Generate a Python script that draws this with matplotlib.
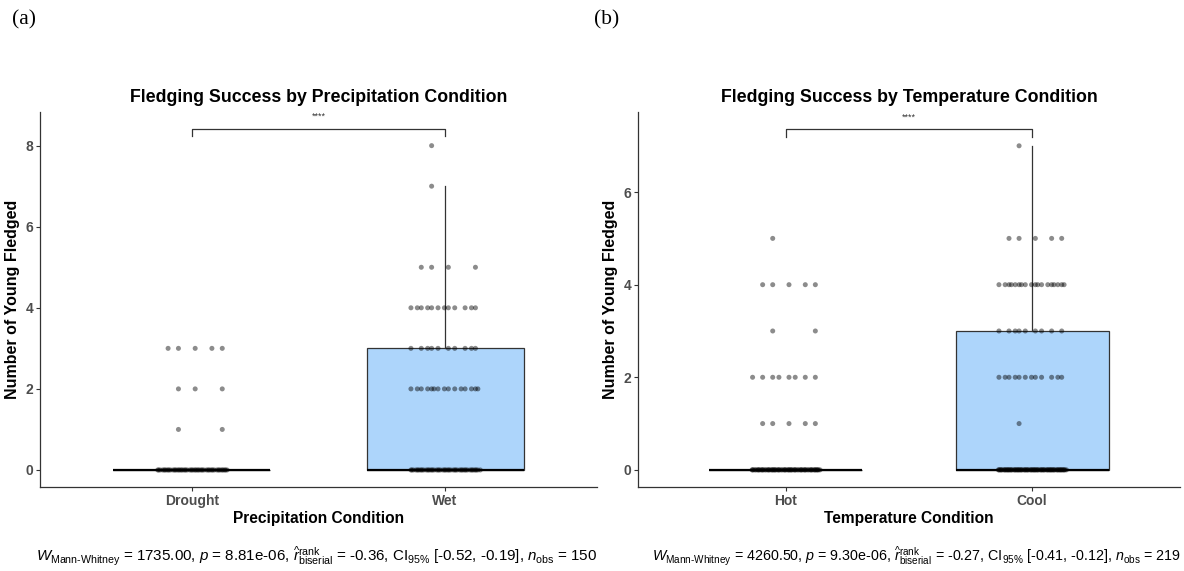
import numpy as np
import matplotlib
matplotlib.use("Agg")
import matplotlib.pyplot as plt

plt.rcParams['font.family'] = ['Liberation Sans', 'DejaVu Sans']
plt.rcParams['mathtext.fontset'] = 'custom'
plt.rcParams['mathtext.rm'] = 'Liberation Sans'
plt.rcParams['mathtext.it'] = 'Liberation Sans:italic'
plt.rcParams['mathtext.bf'] = 'Liberation Sans:bold'

# ---- data (counts of nests per number of young fledged) ----
levels = [0, 1, 2, 3, 4, 5, 7, 8]
drought_counts = [50, 2, 3, 5, 0, 0, 0, 0]
wet_counts = [47, 0, 15, 10, 12, 4, 1, 1]
hot_counts = [71, 5, 8, 2, 5, 1, 0, 0]
cool_counts = [81, 1, 12, 9, 18, 5, 1, 0]

precip_categories = ["Drought", "Wet"]
temp_categories = ["Hot", "Cool"]

precip_title = "Fledging Success by Precipitation Condition"
temp_title = "Fledging Success by Temperature Condition"
precip_xlabel = "Precipitation Condition"
temp_xlabel = "Temperature Condition"
ylabel = "Number of Young Fledged"

precip_caption = (r"$\mathit{W}_{\text{Mann-Whitney}}$ = 1735.00, $\mathit{p}$ = 8.81e-06, "
                  r"$\widehat{\mathit{r}}_{\mathrm{biserial}}^{\mathrm{rank}}$ = -0.36, "
                  r"$\mathrm{CI}_{95\%}$ [-0.52, -0.19], $\mathit{n}_{\mathrm{obs}}$ = 150")
temp_caption = (r"$\mathit{W}_{\text{Mann-Whitney}}$ = 4260.50, $\mathit{p}$ = 9.30e-06, "
                r"$\widehat{\mathit{r}}_{\mathrm{biserial}}^{\mathrm{rank}}$ = -0.27, "
                r"$\mathrm{CI}_{95\%}$ [-0.41, -0.12], $\mathit{n}_{\mathrm{obs}}$ = 219")
signif = "****"

W, H = 1184, 571
fig = plt.figure(figsize=(W / 100, H / 100), dpi=100)

BOX_FILL = ['white', '#add5fb']
GREY = '#4d4d4d'


def jitter(n, width):
    # deterministic spread (golden-ratio sequence) for the jittered points
    k = np.arange(n)
    return (((k * 0.6180339887 + 0.31) % 1.0) - 0.5) * 2 * width


def panel(rect, cats, counts_list, title, xlabel, caption, cap_x, cap_size,
          ylim, yticks, bracket_y, tag, tagx):
    ax = fig.add_axes(rect)
    data = [np.repeat(levels, c) for c in counts_list]
    bp = ax.boxplot(data, positions=[1, 2], widths=0.62, whis=1.5, showfliers=False,
                    showcaps=False, patch_artist=True,
                    boxprops=dict(edgecolor='#333333', linewidth=0.9),
                    medianprops=dict(color='black', linewidth=1.6),
                    whiskerprops=dict(color='#333333', linewidth=0.9), zorder=2)
    for patch, fc in zip(bp['boxes'], BOX_FILL):
        patch.set_facecolor(fc)
    for i, d in enumerate(data):
        for lv in np.unique(d):
            m = int(np.sum(d == lv))
            xs = (i + 1) + jitter(m, 0.14)
            ax.scatter(xs, np.full(m, lv), s=13, color='black', alpha=0.45,
                       edgecolors='none', zorder=3)
    ax.set_xlim(0.4, 2.6)
    ax.set_ylim(*ylim)
    ax.set_yticks(yticks)
    ax.set_xticks([1, 2])
    ax.set_xticklabels(cats)
    for s in ['top', 'right']:
        ax.spines[s].set_visible(False)
    for s in ['left', 'bottom']:
        ax.spines[s].set_color('#333333')
        ax.spines[s].set_linewidth(0.9)
    ax.tick_params(axis='both', direction='out', length=3, width=0.8, color='#333333',
                   labelsize=10, labelcolor=GREY, pad=2)
    for lab in ax.get_xticklabels() + ax.get_yticklabels():
        lab.set_fontweight('bold')
    ax.set_title(title, fontsize=12.8, fontweight='bold', pad=7)
    ax.set_xlabel(xlabel, fontsize=11.2, fontweight='bold', labelpad=2)
    ax.set_ylabel(ylabel, fontsize=11.5, fontweight='bold', labelpad=4)
    # significance bracket
    tick = 0.04 * (ylim[1] - ylim[0])
    ax.plot([1, 1, 2, 2], [bracket_y - tick / 2, bracket_y, bracket_y, bracket_y - tick / 2],
            color='#333333', lw=0.9, clip_on=False)
    ax.text(1.5, bracket_y + 0.02 * (ylim[1] - ylim[0]), signif, ha='center', va='bottom',
            fontsize=6.5, color='#333333')
    fig.text(cap_x / W, 1 - 556 / H, caption, ha='center', va='center', fontsize=cap_size)
    fig.text(tagx, 1 - 20 / H, tag, ha='left', va='center', fontsize=15.5,
             family='Liberation Serif')
    return ax


panel([40 / W, 1 - 487 / H, 557 / W, 375 / H], precip_categories, [drought_counts, wet_counts],
      precip_title, precip_xlabel, precip_caption, 317, 10.9,
      (-0.42, 8.83), [0, 2, 4, 6, 8], 8.42, "(a)", 12 / W)
panel([638 / W, 1 - 487 / H, 542 / W, 375 / H], temp_categories, [hot_counts, cool_counts],
      temp_title, temp_xlabel, temp_caption, 916, 10.3,
      (-0.37, 7.73), [0, 2, 4, 6], 7.36, "(b)", 594 / W)

fig.savefig("out.png", dpi=100)
